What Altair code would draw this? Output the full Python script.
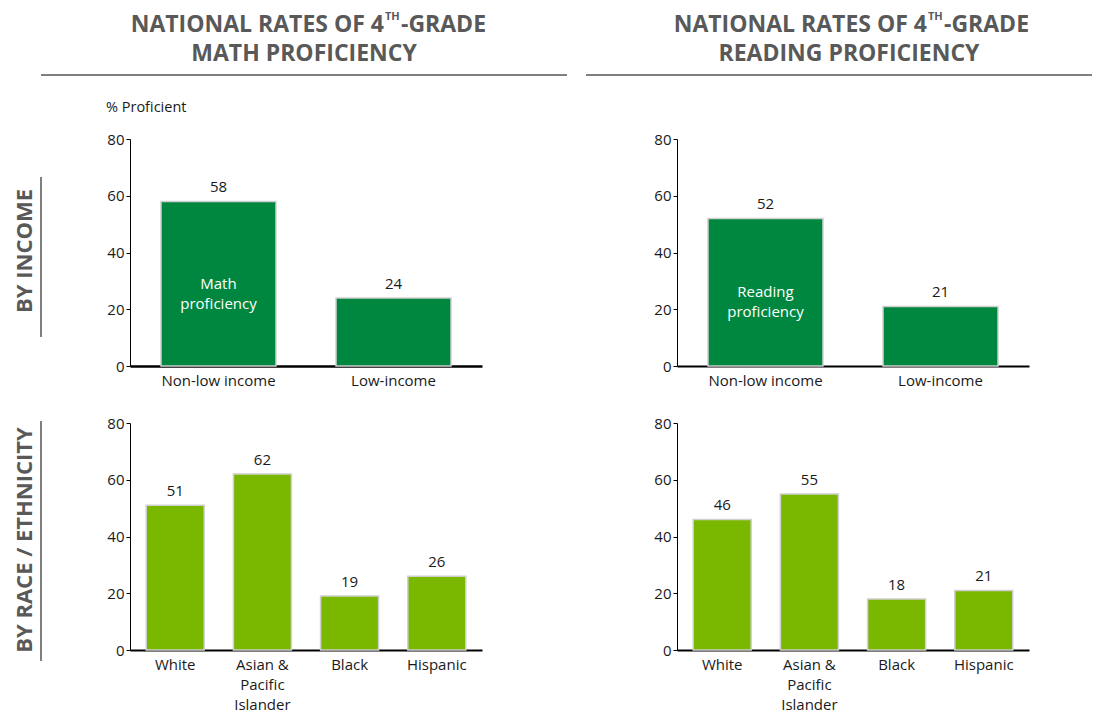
import altair as alt
import pandas as pd

# ---------------- data ----------------
income_groups = ["Non-low income", "Low-income"]
math_income = [58, 24]
reading_income = [52, 21]

race_groups = ["White", "Asian & Pacific Islander", "Black", "Hispanic"]
math_race = [51, 62, 19, 26]
reading_race = [46, 55, 18, 21]

y_ticks = [0, 20, 40, 60, 80]

# ---------------- styles ----------------
FONT = "Open Sans"
TITLE_GRAY = "#595959"
RULE_GRAY = "#7f7f7f"
TEXT_DARK = "#1a1a1a"
DARK_GREEN = "#00873F"
LIGHT_GREEN = "#7AB800"
W, H = 352, 227

one = pd.DataFrame({"k": [0]})


def note(text, x, y, size=15, bold=False, color=TEXT_DARK, align="left",
         baseline="alphabetic", angle=None):
    kw = dict(text=text, fontSize=size, font=FONT, color=color, align=align,
              baseline=baseline)
    if bold:
        kw["fontWeight"] = "bold"
    if angle is not None:
        kw["angle"] = angle
    return alt.Chart(one).mark_text(**kw).encode(x=alt.value(x), y=alt.value(y))


def hrule(x1, x2, y):
    return alt.Chart(one).mark_rule(color=RULE_GRAY, strokeWidth=2).encode(
        x=alt.value(x1), x2=alt.value(x2), y=alt.value(y))


def vrule(x, y1, y2):
    return alt.Chart(one).mark_rule(color=RULE_GRAY, strokeWidth=2).encode(
        x=alt.value(x), y=alt.value(y1), y2=alt.value(y2))


def header(subject, center, split):
    return [
        note("NATIONAL RATES OF 4", split, -107, size=23, bold=True,
             color=TITLE_GRAY, align="right"),
        note("TH", split + 1, -119, size=11, bold=True, color=TITLE_GRAY),
        note("-GRADE", split + 17, -107, size=23, bold=True, color=TITLE_GRAY),
        note(subject, center, -78, size=23, bold=True, color=TITLE_GRAY,
             align="center"),
    ]


LABEL_EXPR = ("datum.label == 'Asian & Pacific Islander' ? "
              "['Asian &', 'Pacific', 'Islander'] : datum.label")


def panel(cats, vals, color, p_inner, p_outer, domain_w, inner_label=None,
          extras=()):
    df = pd.DataFrame({"group": cats, "value": vals})
    x = alt.X("group:N", sort=list(cats), title=None,
              scale=alt.Scale(paddingInner=p_inner, paddingOuter=p_outer),
              axis=alt.Axis(labelAngle=0, ticks=False, domainColor="black",
                            domainWidth=domain_w, labelPadding=7,
                            labelLineHeight=20, labelExpr=LABEL_EXPR))
    yaxis = alt.Axis(values=y_ticks, grid=False, tickSize=4, tickColor="black",
                     domainColor="black", domainWidth=1, labelPadding=2)
    y = alt.Y("value:Q", title=None, scale=alt.Scale(domain=[0, 80], nice=False),
              axis=yaxis)
    base = alt.Chart(df)
    bars = base.mark_bar(color=color, stroke="#d0d0d0", strokeWidth=1.5).encode(
        x=x, y=y)
    values = base.mark_text(baseline="bottom", dy=-6, fontSize=15, font=FONT,
                            color=TEXT_DARK).encode(x=x, y=y, text="value:Q")
    layers = [bars, values]
    if inner_label:
        inner = base.transform_filter(
            alt.datum.group == cats[0]
        ).transform_calculate(
            mid="datum.value / 2", lbl=f"'{inner_label}'"
        ).mark_text(color="white", fontSize=15, font=FONT, lineBreak=" ",
                    lineHeight=20, baseline="middle").encode(
            x=x, y=alt.Y("mid:Q", title=None, axis=yaxis), text="lbl:N")
        layers.append(inner)
    layers.extend(extras)
    return alt.layer(*layers).properties(width=W, height=H)


anchor = alt.Chart(one).mark_rule(strokeOpacity=0).encode(
    x=alt.value(-122), y=alt.value(-131), y2=alt.value(-130))

tl = panel(income_groups, math_income, DARK_GREEN, 0.343, 0.177, 2.5,
           inner_label="Math proficiency",
           extras=[anchor] + header("MATH PROFICIENCY", 174, 254) + [
               hrule(-89, 437, -64),
               note("% Proficient", -24, -27, size=14.5),
               note("BY INCOME", -105, 112, size=22, bold=True, color=TITLE_GRAY,
                    align="center", baseline="middle", angle=270),
               vrule(-89, 38, 198),
           ])

tr = panel(income_groups, reading_income, DARK_GREEN, 0.343, 0.177, 2,
           inner_label="Reading proficiency",
           extras=header("READING PROFICIENCY", 172, 250) + [
               hrule(-91, 415, -64),
           ])

bl = panel(race_groups, math_race, LIGHT_GREEN, 0.335, 0.186, 2,
           extras=[
               note("BY RACE / ETHNICITY", -105, 117, size=22, bold=True,
                    color=TITLE_GRAY, align="center", baseline="middle",
                    angle=270),
               vrule(-89, -2, 238),
           ])

br = panel(race_groups, reading_race, LIGHT_GREEN, 0.335, 0.186, 2)

chart = alt.concat(
    tl, tr, bl, br, columns=2,
    spacing={"row": 57, "column": 195}, bounds="flush"
).properties(
    padding=0
).configure_view(
    stroke=None
).configure_axis(
    labelFont=FONT, labelFontSize=15, labelColor=TEXT_DARK
)

chart.save("out.html", embed_options={"renderer": "svg", "actions": False})
